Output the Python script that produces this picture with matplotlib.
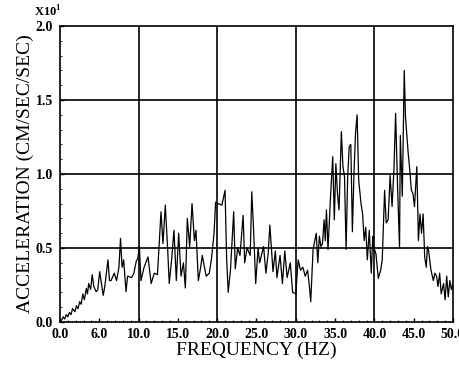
import matplotlib
matplotlib.use("Agg")
import matplotlib.pyplot as plt
from matplotlib.ticker import MultipleLocator

# spectrum (amplitude in units of 10 cm/sec/sec)
freq = [
    0.0, 0.2, 0.4, 0.6, 0.8, 1.0, 1.2, 1.4, 1.6, 1.9, 2.1, 2.3, 2.5, 2.7, 2.9,
    3.1, 3.35, 3.5, 3.65, 3.9, 4.1, 4.3, 4.6,
    4.8, 5.05, 5.3, 5.5, 5.7, 6.1, 6.3, 6.5, 6.9, 7.2, 7.5, 7.7, 7.9, 8.1, 8.4,
    8.6, 9.1, 9.4, 9.7, 9.9, 10.1, 10.3, 10.7, 11.2, 11.6, 12.0, 12.4, 12.85,
    13.1, 13.4, 13.7, 13.9, 14.2, 14.5, 14.8, 15.1, 15.4, 15.7, 15.95, 16.2,
    16.5, 16.8, 17.1, 17.3, 17.6, 17.9, 18.1, 18.6, 19.0, 19.3, 19.6, 19.8,
    20.1, 20.6, 21.0, 21.2, 21.4, 21.7, 22.1, 22.3, 22.6, 22.9, 23.3, 23.5,
    23.8, 24.2, 24.4, 24.6, 24.9, 25.2, 25.4, 25.9, 26.2, 26.5, 26.7, 27.1,
    27.4, 27.6, 28.0, 28.3, 28.6, 28.9, 29.3, 29.6, 30.0, 30.3, 30.6, 30.9,
    31.2, 31.5, 31.7, 31.9, 32.2, 32.6, 32.8, 33.0, 33.2, 33.4, 33.6, 33.75,
    33.9, 34.1, 34.4, 34.7, 34.9, 35.1, 35.3, 35.5, 35.8, 36.0, 36.2, 36.4,
    36.6, 36.8, 37.0, 37.2, 37.4, 37.6, 37.8, 38.0, 38.3, 38.5, 38.7, 38.9,
    39.1, 39.35, 39.6, 39.8, 39.9, 40.2, 40.5, 40.8, 41.0, 41.3, 41.5, 41.75,
    42.0, 42.25, 42.5, 42.7, 42.95, 43.2, 43.3, 43.55, 43.8, 43.95, 44.1,
    44.3, 44.5, 44.7, 44.9, 45.1, 45.4, 45.6, 45.8, 46.0, 46.2, 46.4, 46.6,
    46.75, 46.9, 47.2, 47.5, 47.7, 47.9, 48.1, 48.3, 48.5, 48.8, 49.0, 49.2,
    49.4, 49.6, 49.8, 50.0,
]
accel = [
    0.0, 0.013, 0.035, 0.02, 0.05, 0.035, 0.065, 0.05, 0.09, 0.07, 0.11, 0.09,
    0.137, 0.12, 0.19, 0.15, 0.227, 0.19, 0.26, 0.22, 0.32, 0.24, 0.205,
    0.216, 0.34, 0.25, 0.18, 0.24, 0.42, 0.28, 0.28, 0.33,
    0.28, 0.37, 0.565, 0.37, 0.42, 0.205, 0.31, 0.30, 0.33, 0.41, 0.43, 0.51,
    0.28, 0.37, 0.44, 0.26, 0.33, 0.32, 0.745, 0.53, 0.79, 0.49, 0.26, 0.42,
    0.62, 0.28, 0.60, 0.31, 0.40, 0.23, 0.70, 0.51, 0.80, 0.55, 0.62, 0.28,
    0.37, 0.45, 0.31, 0.33, 0.44, 0.60, 0.81, 0.80, 0.79, 0.89, 0.43, 0.20,
    0.36, 0.745, 0.36, 0.50, 0.45, 0.72, 0.40, 0.50, 0.45, 0.88, 0.66, 0.26,
    0.50, 0.40, 0.51, 0.33, 0.47, 0.655, 0.34, 0.48, 0.30, 0.45, 0.26, 0.48,
    0.30, 0.40, 0.20, 0.19, 0.42, 0.35, 0.37, 0.31, 0.35, 0.26, 0.137, 0.49,
    0.60, 0.40, 0.58, 0.51, 0.53, 0.69, 0.55, 0.757, 0.49, 0.824, 1.117, 0.69,
    1.07, 0.87, 0.757, 1.286, 1.05, 0.98, 0.49, 0.98, 1.185, 1.20, 0.61, 1.0,
    1.275, 1.40, 0.96, 0.80, 0.73, 0.55, 0.64, 0.42, 0.62, 0.33, 0.58, 0.51,
    0.46, 0.295, 0.35, 0.42, 0.89, 0.67, 0.69, 0.99, 0.78, 1.05, 1.41, 0.91,
    0.50, 1.26, 0.85, 1.70, 1.39, 1.28, 1.14, 1.03, 0.89, 0.87, 0.78, 1.05,
    0.55, 0.73, 0.60, 0.73, 0.44, 0.37, 0.51, 0.48, 0.35, 0.28, 0.33, 0.31,
    0.24, 0.33, 0.19, 0.26, 0.15, 0.31, 0.17, 0.28, 0.22, 0.26,
]

xticks = [0, 5, 10, 15, 20, 25, 30, 35, 40, 45, 50]
xtick_labels = ["0.0", "6.0", "10.0", "15.0", "20.0", "25.0", "30.0",
                "35.0", "40.0", "45.0", "50.0"]
yticks = [0.0, 0.5, 1.0, 1.5, 2.0]
ytick_labels = ["0.0", "0.5", "1.0", "1.5", "2.0"]

plt.rcParams["font.family"] = ["Liberation Serif", "DejaVu Serif"]

fig = plt.figure(figsize=(4.59, 3.66), dpi=100)
ax = fig.add_axes([0.1307, 0.1202, 0.8562, 0.8087])

ax.plot(freq, accel, color="black", linewidth=0.9)

ax.set_xlim(0, 50)
ax.set_ylim(0, 2.0)
ax.set_xticks(xticks)
ax.set_xticklabels(xtick_labels, fontsize=10, fontweight="bold")
ax.set_yticks(yticks)
ax.set_yticklabels(ytick_labels, fontsize=10, fontweight="bold")
ax.xaxis.set_minor_locator(MultipleLocator(1))
ax.yaxis.set_minor_locator(MultipleLocator(0.1))
ax.tick_params(which="major", direction="in", length=3, width=1)
ax.tick_params(axis="x", which="major", pad=4)
ax.tick_params(axis="y", which="major", pad=5)
ax.tick_params(which="minor", direction="in", length=1.5, width=0.6)

for v in [10, 20, 30, 40]:
    ax.axvline(v, color="black", linewidth=1.2)
for v in [0.5, 1.0, 1.5]:
    ax.axhline(v, color="black", linewidth=1.2)

for s in ax.spines.values():
    s.set_linewidth(1.2)

ax.set_xlabel("FREQUENCY (HZ)", fontsize=14, labelpad=1)
ax.set_ylabel("ACCELERATION (CM/SEC/SEC)", fontsize=14, labelpad=1)
fig.text(0.075, 0.955, "X10$^{\\mathregular{1}}$", fontsize=9, fontweight="bold")

fig.savefig("out.png", dpi=100)
